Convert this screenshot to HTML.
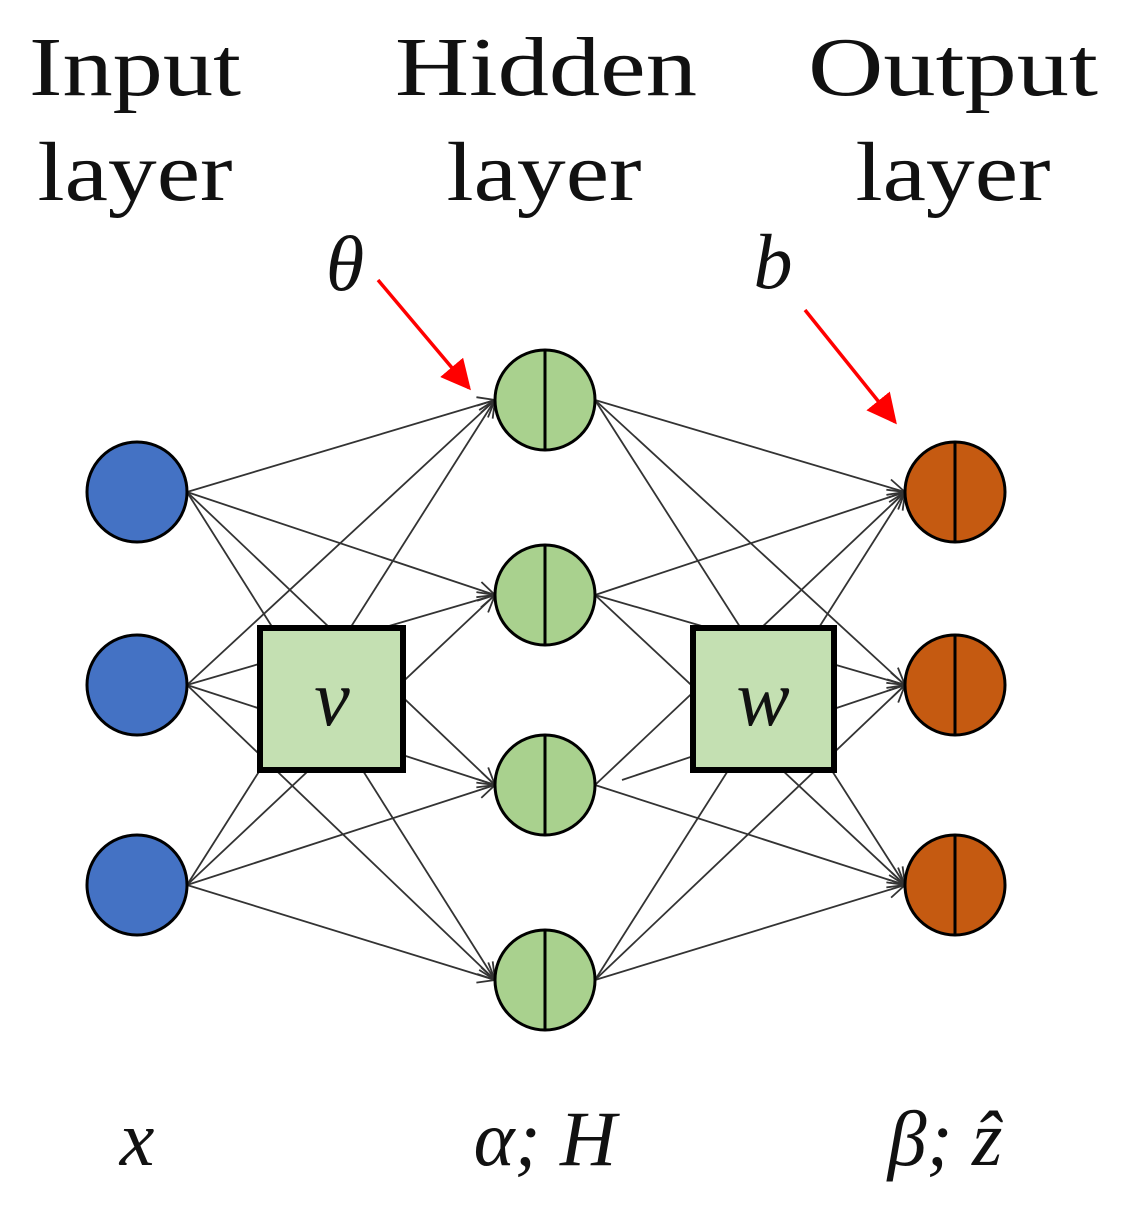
<!DOCTYPE html>
<html><head><style>html,body{margin:0;padding:0;background:#fff}</style></head>
<body>
<svg width="1121" height="1220" viewBox="0 0 1121 1220" xmlns="http://www.w3.org/2000/svg" font-family="'Liberation Serif', serif">
<defs>
<marker id="ah" viewBox="0 0 20 20" refX="19" refY="10" markerWidth="20" markerHeight="20" markerUnits="userSpaceOnUse" orient="auto">
<path d="M2 2 L19 10 L2 18" fill="none" stroke="#333" stroke-width="1.8"/>
</marker>
<marker id="red" viewBox="0 0 10 10" refX="9" refY="5" markerWidth="30" markerHeight="30" markerUnits="userSpaceOnUse" orient="auto">
<path d="M0 0 L10 5 L0 10 z" fill="#f00"/>
</marker>
</defs>
<g font-size="84" fill="#111" text-anchor="middle">
<text x="135" y="95" textLength="212" lengthAdjust="spacingAndGlyphs">Input</text>
<text x="135" y="200" textLength="195" lengthAdjust="spacingAndGlyphs">layer</text>
<text x="546" y="95" textLength="302" lengthAdjust="spacingAndGlyphs">Hidden</text>
<text x="544" y="200" textLength="195" lengthAdjust="spacingAndGlyphs">layer</text>
<text x="953" y="95" textLength="290" lengthAdjust="spacingAndGlyphs">Output</text>
<text x="953" y="200" textLength="195" lengthAdjust="spacingAndGlyphs">layer</text>
</g>
<g font-size="78" font-style="italic" fill="#111" text-anchor="middle">
<text x="345" y="290">θ</text>
<text x="773" y="288">b</text>
<text x="137" y="1165">x</text>
<text x="545" y="1165">α; H</text>
<text x="945" y="1165">β; ẑ</text>
</g>
<line x1="378" y1="280" x2="469" y2="388" stroke="#f00" stroke-width="3.5" marker-end="url(#red)"/>
<line x1="805" y1="310" x2="895" y2="422" stroke="#f00" stroke-width="3.5" marker-end="url(#red)"/>
<g stroke="#333" stroke-width="1.8" marker-end="url(#ah)">
<line x1="187" y1="492" x2="495" y2="400"/><line x1="187" y1="492" x2="495" y2="595"/><line x1="187" y1="492" x2="495" y2="785"/><line x1="187" y1="492" x2="495" y2="980"/>
<line x1="187" y1="685" x2="495" y2="400"/><line x1="187" y1="685" x2="495" y2="595"/><line x1="187" y1="685" x2="495" y2="785"/><line x1="187" y1="685" x2="495" y2="980"/>
<line x1="187" y1="885" x2="495" y2="400"/><line x1="187" y1="885" x2="495" y2="595"/><line x1="187" y1="885" x2="495" y2="785"/><line x1="187" y1="885" x2="495" y2="980"/>
<line x1="595" y1="400" x2="905" y2="492"/><line x1="595" y1="400" x2="905" y2="685"/><line x1="595" y1="400" x2="905" y2="885"/>
<line x1="595" y1="595" x2="905" y2="492"/><line x1="595" y1="595" x2="905" y2="685"/><line x1="595" y1="595" x2="905" y2="885"/>
<line x1="595" y1="785" x2="905" y2="492"/><line x1="622" y1="780" x2="905" y2="685"/><line x1="595" y1="785" x2="905" y2="885"/>
<line x1="595" y1="980" x2="905" y2="492"/><line x1="595" y1="980" x2="905" y2="685"/><line x1="595" y1="980" x2="905" y2="885"/>
</g>
<g stroke="#000" stroke-width="6" fill="#c4e0b2">
<rect x="260" y="628" width="143" height="142"/>
<rect x="693" y="628" width="141" height="142"/>
</g>
<g font-size="80" font-style="italic" fill="#111" text-anchor="middle">
<text x="332" y="725">v</text>
<text x="763" y="725">w</text>
</g>
<g stroke="#000" stroke-width="3">
<circle cx="137" cy="492" r="50" fill="#4472c4"/>
<circle cx="137" cy="685" r="50" fill="#4472c4"/>
<circle cx="137" cy="885" r="50" fill="#4472c4"/>
<g fill="#a9d18e">
<circle cx="545" cy="400" r="50"/><circle cx="545" cy="595" r="50"/><circle cx="545" cy="785" r="50"/><circle cx="545" cy="980" r="50"/>
</g>
<g fill="#c55a11">
<circle cx="955" cy="492" r="50"/><circle cx="955" cy="685" r="50"/><circle cx="955" cy="885" r="50"/>
</g>
<line x1="545" y1="350" x2="545" y2="450"/><line x1="545" y1="545" x2="545" y2="645"/><line x1="545" y1="735" x2="545" y2="835"/><line x1="545" y1="930" x2="545" y2="1030"/>
<line x1="955" y1="442" x2="955" y2="542"/><line x1="955" y1="635" x2="955" y2="735"/><line x1="955" y1="835" x2="955" y2="935"/>
</g>
</svg>
</body></html>
